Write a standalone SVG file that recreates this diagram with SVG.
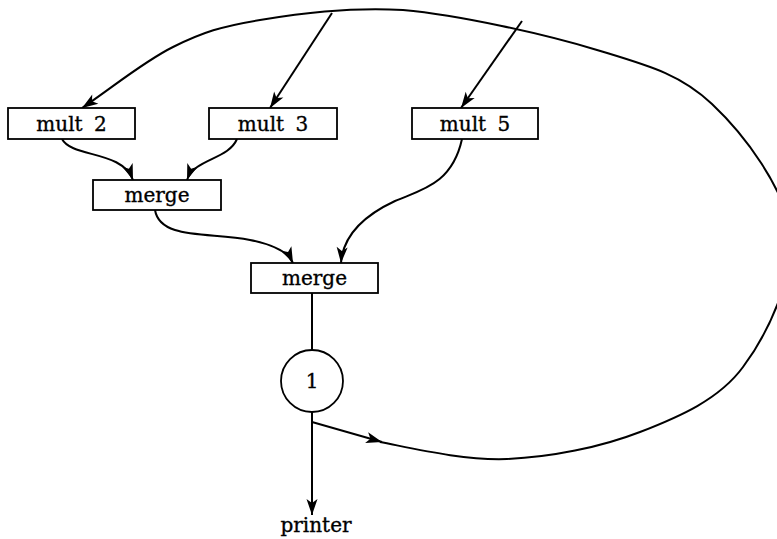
<svg xmlns="http://www.w3.org/2000/svg" width="777" height="539" viewBox="0 0 777 539">
  <style>
    .box { fill: #fff; stroke: #000; stroke-width: 1.8; }
    .lbl { font-family: "DejaVu Serif", "Liberation Serif", serif; font-size: 20px; fill: #000; stroke: #000; stroke-width: 0.35; text-anchor: middle; word-spacing: 5px; }
    .wire { fill: none; stroke: #000; stroke-width: 2; }
    .arr { marker-end: url(#head); }
  </style>
  <defs>
    <marker id="head" markerUnits="userSpaceOnUse" markerWidth="20" markerHeight="14" viewBox="0 -7 18 14" refX="16" refY="0" orient="auto">
      <path d="M0,-5.5 L16,0 L0,5.5 L4,0 Z" fill="#000"/>
    </marker>
  </defs>

  <!-- connectors -->
  <g id="connectors">
    <!-- feedback loop from the tap below the counter back to the multipliers -->
    <path class="wire arr" d="M312,422 L382,442"/>
    <path class="wire arr" d="M380,442 C412.3,448.2 463.7,460.7 507,459 C550.3,457.3 600.7,447.3 640,432 C679.3,416.7 719,399.7 743,367 C768,333.7 795.2,275.8 790,232 C784.8,188.2 744.2,134.3 712,104 C679.8,73.7 648.5,65.7 597,50 C545.5,34.3 459.2,15 403,10 C346.8,7 298.3,13.8 260,20 C221.7,26.2 202.7,32.3 173,47 C143.3,61.7 112.3,87.7 82,108"/>
    <path class="wire arr" d="M332,13 L270,108"/>
    <path class="wire arr" d="M522,21 L461,108"/>
    <!-- multipliers into the merges -->
    <path class="wire arr" d="M62,139 C72,158 122,150 133,180"/>
    <path class="wire arr" d="M237,139 C228,160 195,158 187,180"/>
    <path class="wire arr" d="M155,210 C160,240 210,232 250,240 C275,245 288,252 293,263"/>
    <path class="wire arr" d="M462,139 C452,185 420,190 395,201 C365,215 343,235 341,263"/>
    <!-- merge to counter to printer -->
    <path class="wire" d="M312,293 L312,350"/>
    <path class="wire arr" d="M312,412 L312,515"/>
  </g>

  <g id="mult2">
    <rect class="box" x="8" y="108" width="127" height="31"/>
    <text class="lbl" x="71.5" y="131">mult 2</text>
  </g>
  <g id="mult3">
    <rect class="box" x="209" y="108" width="128" height="31"/>
    <text class="lbl" x="273" y="131">mult 3</text>
  </g>
  <g id="mult5">
    <rect class="box" x="412" y="108" width="126" height="31"/>
    <text class="lbl" x="475" y="131">mult 5</text>
  </g>
  <g id="merge1">
    <rect class="box" x="93" y="180" width="128" height="30"/>
    <text class="lbl" x="157" y="202">merge</text>
  </g>
  <g id="merge2">
    <rect class="box" x="251" y="263" width="127" height="30"/>
    <text class="lbl" x="314.5" y="285">merge</text>
  </g>
  <g id="counter">
    <circle cx="312" cy="381" r="31" fill="#fff" stroke="#000" stroke-width="1.8"/>
    <text class="lbl" x="312" y="388">1</text>
  </g>
  <g id="printer">
    <text class="lbl" x="316" y="532">printer</text>
  </g>
</svg>
